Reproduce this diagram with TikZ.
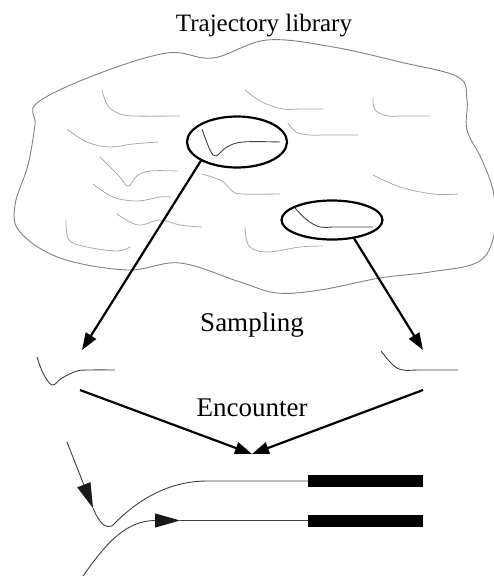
\documentclass[tikz,border=0pt]{standalone}
\usepackage{fontspec}
\setmainfont{Liberation Serif}
\usetikzlibrary{shapes.geometric,arrows.meta}

\begin{document}
\begin{tikzpicture}[x=1pt,y=-1pt]
\tikzset{cloudline/.style={black!50, line width=0.9pt},
 traj/.style={black!33, line width=0.8pt},
 trajdark/.style={black!75, line width=0.9pt},
 pick/.style={draw, ellipse, line width=2.2pt, inner sep=0pt},
 flow/.style={line width=2.2pt, -{Triangle[length=17pt,width=12pt]}},
 head/.style={-{Triangle[length=25pt,width=14pt,color=black!90]}},
 bar/.style={fill=black, minimum width=115pt, minimum height=12pt, inner sep=0pt, anchor=west},
 label/.style={font=\fontsize{27}{32}\selectfont, anchor=base}}
\useasboundingbox (0,0) rectangle (494,576);
\node [label, font=\fontsize{25}{30}\selectfont] (title) at (264,31) {Trajectory library};
\node [label] (samp) at (252,331) {Sampling};
\node [label] (enc) at (252,416) {Encounter};
\draw [cloudline] plot [smooth cycle, tension=0.6] coordinates {(37,103) (95,75) (167,53) (213,58) (267,40) (333,47) (400,62) (458,77) (467,100) (467,130) (482,160) (494,195) (494,235) (478,262) (430,272) (380,278) (320,290) (277,293) (240,282) (180,263) (127,270) (60,258) (20,232) (15,205) (28,165) (35,125)};
\draw [traj] plot [smooth, tension=0.6] coordinates {(102,90) (108,106) (120,114) (135,116) (180,116)};
\draw [traj] plot [smooth, tension=0.6] coordinates {(245,90) (262,102) (283,109) (300,109) (323,109)};
\draw [traj] plot [smooth, tension=0.6] coordinates {(373,97) (375,110) (388,116) (400,116) (430,116)};
\draw [traj] plot [smooth, tension=0.6] coordinates {(288,123) (296,132) (310,135) (325,135) (358,135)};
\draw [traj] plot [smooth, tension=0.6] coordinates {(67,129) (87,142) (110,147) (133,144) (158,142)};
\draw [traj] plot [smooth, tension=0.6] coordinates {(100,157) (118,175) (128,186) (137,176) (150,171) (178,171)};
\draw [traj] plot [smooth, tension=0.6] coordinates {(93,184) (113,197) (137,201) (160,197) (172,197)};
\draw [traj] plot [smooth, tension=0.6] coordinates {(202,174) (222,181) (232,191) (242,194) (280,194)};
\draw [traj] plot [smooth, tension=0.6] coordinates {(373,175) (400,187) (433,194) (458,194)};
\draw [traj] plot [smooth, tension=0.6] coordinates {(117,214) (138,225) (160,220) (180,225) (202,227)};
\draw [traj] plot [smooth, tension=0.6] coordinates {(66,220) (69,240) (87,247) (117,251) (130,247)};
\draw [traj] plot [smooth, tension=0.6] coordinates {(245,227) (249,246) (267,252) (300,247) (323,246)};
\node [pick, minimum width=100pt, minimum height=51pt] (e1) at (237,142) {};
\node [pick, minimum width=101pt, minimum height=39pt] (e2) at (332,220) {};
\draw [trajdark] plot [smooth, tension=0.6] coordinates {(202,129) (210,150) (216,156) (227,147) (243,142) (280,142)};
\draw [trajdark] plot [smooth, tension=0.6] coordinates {(295,208) (307,220) (320,227) (335,227) (373,227)};
\coordinate (s1) at (82,350);
\coordinate (s2) at (423,350);
\draw [flow] (e1.south west) -- (s1);
\draw [flow] (e2.-40) -- (s2);
\draw [trajdark] plot [smooth, tension=0.6] coordinates {(37,357) (43,373) (52,385) (62,378) (77,371) (90,370) (115,370)};
\draw [trajdark] plot [smooth, tension=0.6] coordinates {(381,351) (393,365) (403,370) (420,370) (458,370)};
\coordinate (l1) at (80,390);
\coordinate (r1) at (423,390);
\coordinate (meet) at (252,454);
\draw [flow] (l1) -- (meet);
\draw [flow] (r1) -- (meet);
\node [bar] (bar1) at (308,481) {};
\node [bar] (bar2) at (308,520.5) {};
\coordinate (in1) at (67,442);
\coordinate (m1) at (93,508);
\coordinate (in2) at (83,576);
\coordinate (m2) at (180,520.5);
\draw [trajdark, head] (in1) -- (m1);
\draw [trajdark] (m1) .. controls (100,525) and (106,528) .. (112,526) .. controls (122,516) and (155,481) .. (207,481) -- (bar1.west);
\draw [trajdark, head] (in2) .. controls (105,545) and (125,520.5) .. (m2);
\draw [trajdark] (m2) -- (bar2.west);
\end{tikzpicture}
\end{document}
